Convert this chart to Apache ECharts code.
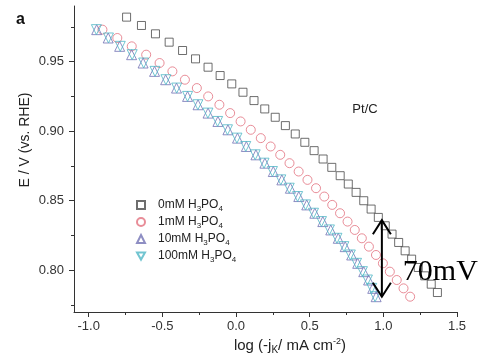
<!DOCTYPE html>
<html><head><meta charset="utf-8">
<script src="https://cdn.jsdelivr.net/npm/echarts@6/dist/echarts.min.js"></script>
<style>html,body{margin:0;padding:0;background:#fff}#c{width:481px;height:358px}</style>
</head><body><div id="c"></div>
<script>
// ---- data ----
const seriesNames = ['0mM', '1mM', '10mM', '100mM'];
// 0mM H3PO4 (squares)
const e0 = [0.982,0.976,0.970,0.964,0.958,0.952,0.946,0.940,0.934,0.928,0.922,0.916,0.910,0.904,0.898,0.892,0.886,0.880,0.874,0.868,0.862,0.856,0.850,0.844,0.838,0.832,0.826,0.820,0.814,0.808,0.802,0.796,0.790,0.784];
const x0 = [-0.743,-0.642,-0.547,-0.454,-0.363,-0.275,-0.190,-0.108,-0.029,0.047,0.122,0.195,0.266,0.335,0.402,0.467,0.530,0.591,0.650,0.707,0.762,0.815,0.867,0.917,0.966,1.013,1.059,1.104,1.148,1.192,1.237,1.281,1.325,1.367];
// potentials shared by the other three series
const eOther = [0.973,0.967,0.961,0.955,0.949,0.943,0.937,0.931,0.925,0.919,0.913,0.907,0.901,0.895,0.889,0.883,0.877,0.871,0.865,0.859,0.853,0.847,0.841,0.835,0.829,0.823,0.817,0.811,0.805,0.799,0.793,0.787,0.781];
// 1mM (circles)
const x1 = [-0.907,-0.806,-0.708,-0.610,-0.519,-0.432,-0.347,-0.266,-0.189,-0.113,-0.040,0.031,0.100,0.168,0.235,0.300,0.363,0.425,0.485,0.543,0.599,0.653,0.706,0.757,0.806,0.854,0.902,0.950,0.997,1.044,1.091,1.137,1.182];
// 10mM (up triangles)
const x10 = [-0.946,-0.868,-0.790,-0.709,-0.631,-0.553,-0.478,-0.404,-0.329,-0.258,-0.190,-0.123,-0.055,0.010,0.070,0.135,0.196,0.253,0.311,0.369,0.426,0.480,0.535,0.589,0.643,0.694,0.741,0.785,0.826,0.867,0.900,0.928,0.951];
// 100mM (down triangles)
const x100 = [-0.948,-0.866,-0.786,-0.705,-0.627,-0.550,-0.476,-0.403,-0.329,-0.259,-0.191,-0.125,-0.058,0.006,0.066,0.130,0.190,0.247,0.304,0.361,0.418,0.472,0.526,0.580,0.634,0.685,0.732,0.776,0.818,0.858,0.892,0.921,0.944];
// ticks
const xTicks = [-1.0,-0.5,0.0,0.5,1.0,1.5];
const xMinor = [-0.75,-0.25,0.25,0.75,1.25];
const yTicks = [0.80,0.85,0.90,0.95];
const yMinor = [0.775,0.825,0.875,0.925,0.975];
// annotation (70 mV arrow)
const arrowX = 0.99, arrowTop = 0.836, arrowBottom = 0.781;

const pair = (xs, es) => xs.map((v, i) => [v, es[i]]);
const FONT = '"Liberation Sans", Arial, sans-serif';
const chart = echarts.init(document.getElementById('c'));

const mk = (name, sym, size, color, xs, es) => ({
  name, type: 'scatter', data: pair(xs, es), xAxisIndex: 0, yAxisIndex: 0,
  symbol: sym, symbolSize: size,
  itemStyle: { color: 'rgba(0,0,0,0)', borderColor: color, borderWidth: 1 },
  emphasis: { disabled: true }, animation: false
});

chart.setOption({
  animation: false,
  grid: { left: 74, right: 24, top: 6, bottom: 46 },
  xAxis: [
    { type: 'value', min: -1.1, max: 1.5, position: 'bottom',
      axisLine: { onZero: false, lineStyle: { color: '#333', width: 1 } },
      axisTick: { customValues: xTicks, length: 5, lineStyle: { color: '#333' } },
      axisLabel: { customValues: xTicks, formatter: v => v.toFixed(1), color: '#333', fontSize: 13, fontFamily: FONT, margin: 8 },
      splitLine: { show: false } },
    { type: 'value', min: -1.1, max: 1.5, position: 'bottom',
      axisLine: { show: false, onZero: false },
      axisTick: { customValues: xMinor, length: 3, lineStyle: { color: '#333' } },
      axisLabel: { show: false }, splitLine: { show: false } }
  ],
  yAxis: [
    { type: 'value', min: 0.77, max: 0.99, position: 'left',
      axisLine: { show: true, onZero: false, lineStyle: { color: '#333', width: 1 } },
      axisTick: { show: true, customValues: yTicks, length: 5, lineStyle: { color: '#333' } },
      axisLabel: { customValues: yTicks, formatter: v => v.toFixed(2), color: '#333', fontSize: 13, fontFamily: FONT, margin: 10 },
      splitLine: { show: false } },
    { type: 'value', min: 0.77, max: 0.99, position: 'left',
      axisLine: { show: false, onZero: false },
      axisTick: { show: true, customValues: yMinor, length: 3, lineStyle: { color: '#333' } },
      axisLabel: { show: false }, splitLine: { show: false } }
  ],
  legend: {
    orient: 'vertical', left: 131, top: 192, itemWidth: 8, itemHeight: 8, itemGap: 1,
    selectedMode: false,
    data: seriesNames,
    formatter: n => n + ' H{sub|3}PO{sub|4}',
    textStyle: { fontSize: 12, color: '#222', fontFamily: FONT, lineHeight: 16, padding: [0, 0, 0, 8],
      rich: { sub: { fontSize: 8, lineHeight: 8, verticalAlign: 'bottom', fontFamily: FONT, color: '#222' } } }
  },
  series: [
    mk(seriesNames[0], 'rect', 8, '#4a4a4a', x0, e0),
    mk(seriesNames[1], 'circle', 9, '#e2707e', x1, eOther),
    mk(seriesNames[2], 'triangle', 10, '#7272b4', x10, eOther),
    mk(seriesNames[3], 'path://M0,0 L10,0 L5,9 Z', 10, '#4fb6c6', x100, eOther)
  ]
});

const p1 = chart.convertToPixel({ xAxisIndex: 0, yAxisIndex: 0 }, [arrowX, arrowTop]);
const p2 = chart.convertToPixel({ xAxisIndex: 0, yAxisIndex: 0 }, [arrowX, arrowBottom]);
const ink = { stroke: '#000', lineWidth: 2, fill: null };
chart.setOption({
  graphic: [
    { type: 'line', shape: { x1: p1[0], y1: p1[1], x2: p2[0], y2: p2[1] }, style: ink, z: 50 },
    { type: 'polyline', shape: { points: [[p1[0] - 9, p1[1] + 14], [p1[0], p1[1]], [p1[0] + 9, p1[1] + 14]] }, style: ink, z: 50 },
    { type: 'polyline', shape: { points: [[p2[0] - 9, p2[1] - 14], [p2[0], p2[1]], [p2[0] + 9, p2[1] - 14]] }, style: ink, z: 50 },
    { type: 'text', x: p1[0] + 21, y: (p1[1] + p2[1]) / 2 + 14, z: 50,
      style: { text: '70mV', fontSize: 30, fontFamily: '"Liberation Serif", "Times New Roman", serif', fill: '#000', textAlign: 'left', textVerticalAlign: 'middle' } },
    { type: 'text', x: 16, y: 20, style: { text: 'a', fontSize: 16, fontWeight: 'bold', fontFamily: FONT, fill: '#111', textAlign: 'left', textVerticalAlign: 'middle' } },
    { type: 'text', x: 365, y: 109, style: { text: 'Pt/C', fontSize: 13, fontFamily: FONT, fill: '#222', textAlign: 'center', textVerticalAlign: 'middle' } },
    { type: 'text', x: 25, y: 140, rotation: Math.PI / 2,
      style: { text: 'E / V (vs. RHE)', fontSize: 14, fontFamily: FONT, fill: '#222', textAlign: 'center', textVerticalAlign: 'middle' } },
    { type: 'text', x: 290, y: 346,
      style: { text: 'log (-j{sub|K}/ mA cm{sup|-2})', fontSize: 15, fontFamily: FONT, fill: '#222', textAlign: 'center', textVerticalAlign: 'middle', lineHeight: 18,
        rich: { sub: { fontSize: 10, lineHeight: 10, verticalAlign: 'bottom', fontFamily: FONT, fill: '#222' },
                sup: { fontSize: 9, lineHeight: 9, verticalAlign: 'top', fontFamily: FONT, fill: '#222' } } } }
  ]
});
</script>
</body></html>
